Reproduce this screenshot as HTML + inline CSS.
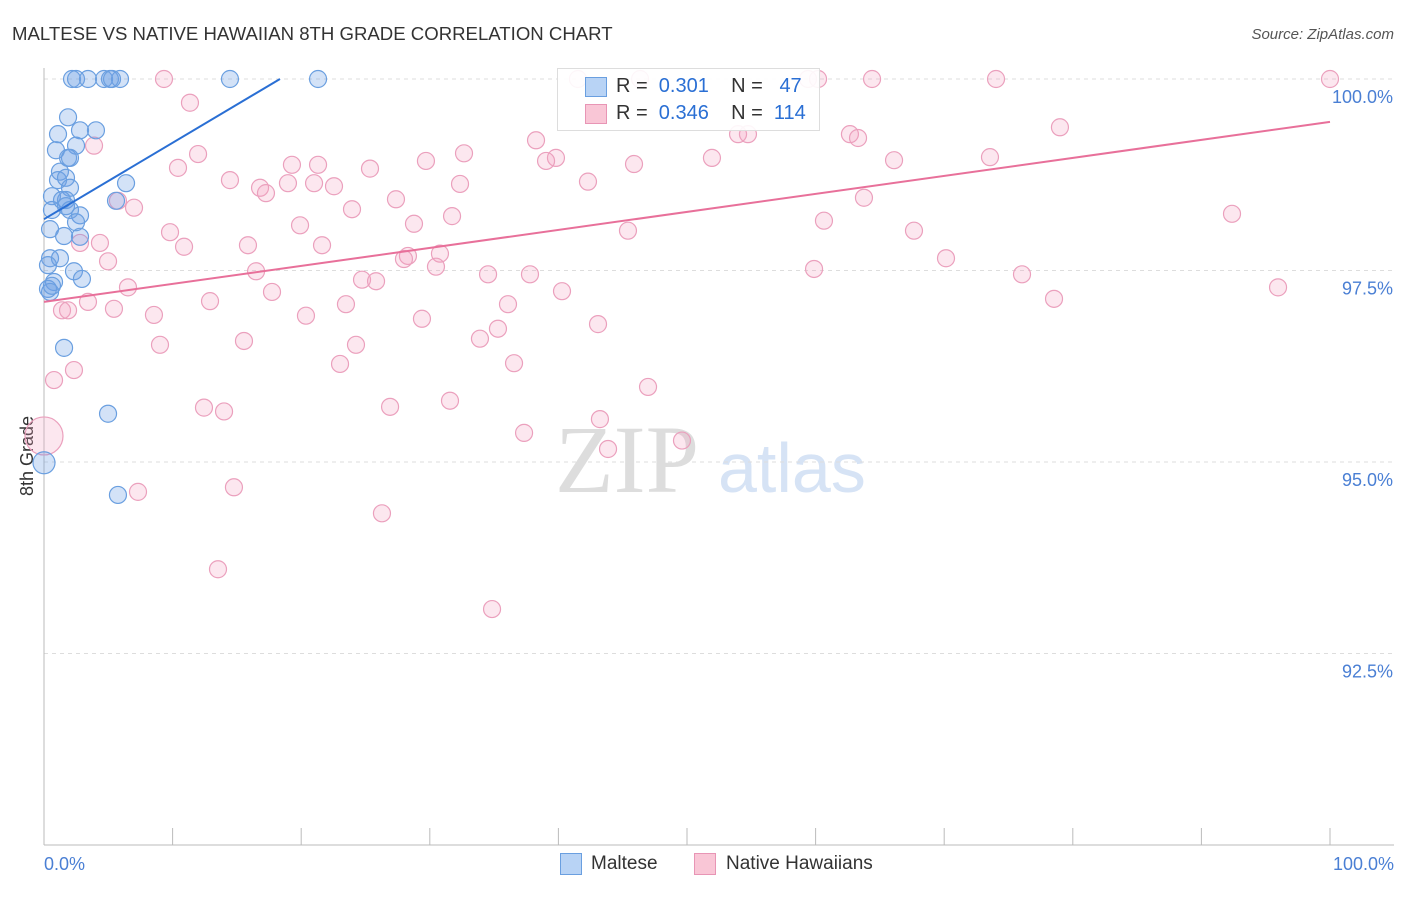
<!DOCTYPE html>
<html><head><meta charset="utf-8"><style>
body{margin:0;background:#fff;font-family:"Liberation Sans",sans-serif;}
#wrap{position:relative;width:1406px;height:892px;}
</style></head><body>
<div id="wrap">
<svg id="svg" width="1406" height="892">
<text x="12" y="40" font-size="18.6" fill="#333">MALTESE VS NATIVE HAWAIIAN 8TH GRADE CORRELATION CHART</text>
<text x="1394" y="39" font-size="15" fill="#555" text-anchor="end" font-style="italic">Source: ZipAtlas.com</text>
<text x="33" y="456" font-size="18" fill="#333" text-anchor="middle" transform="rotate(-90 33 456)">8th Grade</text>
<text x="555" y="492" font-size="96" fill="#ddd" font-family="Liberation Serif">ZIP</text>
<text x="718" y="492" font-size="70" fill="#d6e3f5">atlas</text>
<g id="grid"></g><g id="pts"></g><g id="lines"></g>
</svg>
<div style="position:absolute;left:557px;top:68px;width:261px;height:61px;border:1px solid #ddd;background:rgba(255,255,255,0.9);font-size:20px;color:#333">
 <div style="position:absolute;left:27px;top:8px;width:20px;height:18px;background:#b8d3f5;border:1px solid #6a9fe0"></div>
 <div style="position:absolute;left:58px;top:6px;white-space:pre">R =  <span style="color:#2a6fd4">0.301</span>    N =   <span style="color:#2a6fd4">47</span></div>
 <div style="position:absolute;left:27px;top:35px;width:20px;height:18px;background:#f9c6d6;border:1px solid #e895b5"></div>
 <div style="position:absolute;left:58px;top:33px;white-space:pre">R =  <span style="color:#2a6fd4">0.346</span>    N =  <span style="color:#2a6fd4">114</span></div>
</div>
<div style="position:absolute;left:560px;top:853px;width:20px;height:20px;background:#b8d3f5;border:1px solid #6a9fe0"></div>
<div style="position:absolute;left:591px;top:853px;font-size:19px;color:#333">Maltese</div>
<div style="position:absolute;left:694px;top:853px;width:20px;height:20px;background:#f9c6d6;border:1px solid #e895b5"></div>
<div style="position:absolute;left:726px;top:853px;font-size:19px;color:#333">Native Hawaiians</div>
</div>
<script>
const yTicks=[100,97.5,95,92.5];
const yTickLabels=["100.0%","97.5%","95.0%","92.5%"];
const xTickLabels=["0.0%","100.0%"];
const blueX=[2.18,2.49,3.42,4.67,5.13,5.91,14.46,21.31,1.87,4.04,1.09,2.80,0.93,2.49,1.87,2.02,1.24,1.09,1.71,6.38,2.02,0.62,1.71,5.60,0.62,2.02,2.80,2.49,0.47,1.56,2.80,0.47,1.24,2.33,0.78,2.95,0.31,0.47,1.56,4.98,0,5.75,1.40,0.31,0.62,1.71,5.29];
const blueY=[100,100,100,100,100,100,100,100,99.50,99.33,99.28,99.33,99.07,99.13,98.97,98.97,98.79,98.68,98.71,98.64,98.58,98.47,98.42,98.41,98.29,98.29,98.22,98.13,98.04,97.95,97.94,97.66,97.66,97.49,97.35,97.39,97.26,97.22,96.49,95.63,94.99,94.57,98.42,97.57,97.30,98.34,100];
const pinkX=[9.33,41.52,46.35,59.41,60.19,64.39,74.03,100,11.35,79.00,38.26,53.97,54.74,62.67,63.30,3.89,11.98,32.66,39.81,39.04,45.88,51.94,66.10,73.56,10.42,19.28,21.31,25.35,29.70,14.46,16.80,17.26,18.97,21.00,22.55,32.35,42.30,5.75,7.00,23.95,27.37,31.73,63.76,92.38,19.91,28.77,60.65,9.80,45.41,67.65,2.80,4.35,10.89,15.86,21.62,4.98,28.30,27.99,30.79,70.14,16.49,30.48,34.53,37.79,59.88,76.05,6.53,17.73,24.73,25.82,40.28,95.96,3.42,12.91,23.48,36.08,78.54,1.40,1.87,5.44,8.55,20.37,29.39,43.08,35.30,33.90,9.02,15.55,24.26,23.02,36.55,0.78,2.33,46.97,12.44,14.00,26.91,31.57,43.23,37.33,49.61,43.86,7.31,14.77,26.28,13.53,34.84,0];
const pinkY=[100,100,100,100,100,100,100,100,99.69,99.37,99.20,99.28,99.28,99.28,99.23,99.13,99.02,99.03,98.97,98.93,98.89,98.97,98.94,98.98,98.84,98.88,98.88,98.83,98.93,98.68,98.58,98.51,98.64,98.64,98.60,98.63,98.66,98.41,98.32,98.30,98.43,98.21,98.45,98.24,98.09,98.11,98.15,98.00,98.02,98.02,97.86,97.86,97.81,97.83,97.83,97.62,97.69,97.65,97.72,97.66,97.49,97.55,97.45,97.45,97.52,97.45,97.28,97.22,97.38,97.36,97.23,97.28,97.09,97.10,97.06,97.06,97.13,96.98,96.98,97.00,96.92,96.91,96.87,96.80,96.74,96.61,96.53,96.58,96.53,96.28,96.29,96.07,96.20,95.98,95.71,95.66,95.72,95.80,95.56,95.38,95.28,95.17,94.61,94.67,94.33,93.60,93.08,95.34];
const blueLine=[[0,98.17],[18.35,100]];
const pinkLine=[[0,97.09],[100,99.44]];
const NS='http://www.w3.org/2000/svg';
const sx=v=>44+v*12.86, sy=v=>79+(100-v)*76.6;
function mk(tag,at,par){const e=document.createElementNS(NS,tag);for(const k in at)e.setAttribute(k,at[k]);document.getElementById(par).appendChild(e);return e;}
yTicks.forEach((t,i)=>{
 const g=mk('line',{x1:44,x2:1394,y1:sy(t),y2:sy(t),stroke:'#ddd','stroke-dasharray':'4,4'},'grid');
 
 
 const l=mk('text',{x:1393,y:sy(t)+24,'font-size':18,fill:'#4a7fd4','text-anchor':'end'},'grid');
 l.textContent=yTickLabels[i];
 
 
});
let a=mk('line',{x1:44,x2:44,y1:68,y2:845,stroke:'#bbb'},'grid');


a=mk('line',{x1:44,x2:1394,y1:845,y2:845,stroke:'#bbb'},'grid');


for(let i=0;i<=10;i++){const t=mk('line',{x1:sx(i*10),x2:sx(i*10),y1:828,y2:845,stroke:'#bbb'},'grid');
 
 }
[[0,'start',44],[100,'end',1394]].forEach((d,i)=>{const t=mk('text',{x:d[2],y:870,'font-size':18,fill:'#4a7fd4','text-anchor':d[1]},'grid');t.textContent=xTickLabels[i];
 
 });
pinkX.forEach((x,i)=>{const big=(x===0);const c=mk('circle',{cx:sx(x),cy:sy(pinkY[i]),r:big?19:8.5,fill:'rgba(245,160,190,0.25)',stroke:'#eba0bd','stroke-width':1.2},'pts');
 
 });
blueX.forEach((x,i)=>{const big=(x===0);const c=mk('circle',{cx:sx(x),cy:sy(blueY[i]),r:big?11:8.5,fill:'rgba(110,160,230,0.3)',stroke:'#6a9fe0','stroke-width':1.2},'pts');
 
 });
let L=mk('line',{x1:sx(blueLine[0][0]),y1:sy(blueLine[0][1]),x2:sx(blueLine[1][0]),y2:sy(blueLine[1][1]),stroke:'#2a6fd4','stroke-width':2},'lines');


L=mk('line',{x1:sx(pinkLine[0][0]),y1:sy(pinkLine[0][1]),x2:sx(pinkLine[1][0]),y2:sy(pinkLine[1][1]),stroke:'#e8709a','stroke-width':2},'lines');


</script>
</body></html>
